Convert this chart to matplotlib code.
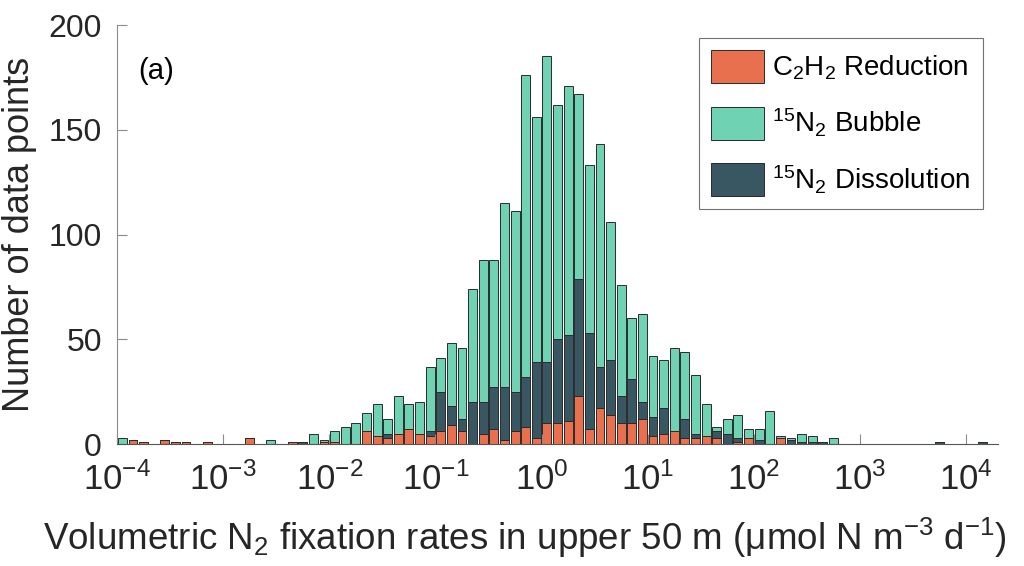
import numpy as np
import matplotlib
matplotlib.use("Agg")
import matplotlib.pyplot as plt
from matplotlib.patches import Patch

plt.rcParams['font.family'] = ['Liberation Sans', 'DejaVu Sans']
plt.rcParams['mathtext.fontset'] = 'custom'
plt.rcParams['mathtext.rm'] = 'Liberation Sans'
plt.rcParams['mathtext.it'] = 'Liberation Sans:italic'
plt.rcParams['mathtext.bf'] = 'Liberation Sans:bold'

# histogram: log10 bins of width 0.1 starting at 1e-4
bin_start = -4.0
bin_step = 0.1

# counts per bin (segment heights, stacked bottom -> top)
c2h2 = [0, 2, 1, 0, 2, 1, 1, 0, 1, 0, 0, 0, 3, 0, 0, 0, 1, 0, 0, 1,
        1, 0, 0, 6, 4, 3, 5, 7, 5, 4, 6, 9, 6, 0, 5, 7, 2, 6, 8, 3,
        10, 10, 11, 23, 7, 17, 14, 10, 10, 12, 4, 5, 6, 3, 3, 4, 3, 0, 1, 3,
        0, 0, 3, 0, 0, 0, 0, 0, 0, 0, 0, 0, 0, 0, 0, 0, 0, 0, 0, 0,
        0, 0, 0]
dissolution = [0, 0, 0, 0, 0, 0, 0, 0, 0, 0, 0, 0, 0, 0, 0, 0, 0, 1, 0, 0,
               0, 0, 0, 0, 0, 2, 0, 0, 0, 2, 19, 9, 6, 20, 15, 20, 25, 19, 24, 36,
               29, 40, 41, 56, 46, 20, 26, 13, 21, 8, 9, 12, 0, 9, 2, 0, 3, 5, 2, 0,
               2, 0, 0, 2, 1, 1, 1, 0, 0, 0, 0, 0, 0, 0, 0, 0, 0, 1, 0, 0,
               0, 1, 0]
bubble = [3, 0, 0, 0, 0, 0, 0, 0, 0, 0, 0, 0, 0, 0, 2, 0, 0, 0, 5, 1,
          5, 8, 10, 9, 15, 7, 18, 12, 15, 31, 16, 30, 34, 54, 68, 61, 88, 86, 144, 117,
          146, 112, 119, 88, 80, 106, 66, 53, 29, 42, 29, 23, 40, 32, 28, 15, 2, 7, 11, 4,
          5, 16, 1, 1, 4, 3, 0, 3, 0, 0, 0, 0, 0, 0, 0, 0, 0, 0, 0, 0,
          0, 0, 0]

labels = ['C$_2$H$_2$ Reduction', '$^{15}$N$_2$ Bubble', '$^{15}$N$_2$ Dissolution']
col_c2h2 = '#E8704F'
col_bubble = '#6FD2B2'
col_diss = '#395663'

n = len(c2h2)
k = np.arange(n)
frac = 0.84
lo = 10 ** (bin_start + bin_step * k + bin_step * (1 - frac) / 2)
hi = 10 ** (bin_start + bin_step * k + bin_step * (1 + frac) / 2)
w = hi - lo

c2h2 = np.array(c2h2)
dissolution = np.array(dissolution)
bubble = np.array(bubble)

fig = plt.figure(figsize=(10.24, 5.66), dpi=100)
ax = fig.add_axes([0.1143, 0.2155, 0.8603, 0.7403])

ec = '#2b2b2b'
ax.bar(lo, c2h2, width=w, align='edge', color=col_c2h2, edgecolor=ec, linewidth=0.7)
ax.bar(lo, dissolution, width=w, align='edge', bottom=c2h2, color=col_diss, edgecolor=ec, linewidth=0.7)
ax.bar(lo, bubble, width=w, align='edge', bottom=c2h2 + dissolution, color=col_bubble, edgecolor=ec, linewidth=0.7)

ax.set_xscale('log')
ax.set_xlim(1e-4, 10 ** 4.3)
ax.set_ylim(0, 200)
ax.set_xticks([10.0 ** e for e in range(-4, 5)])
ax.xaxis.set_minor_locator(matplotlib.ticker.NullLocator())
ax.set_yticks([0, 50, 100, 150, 200])

for s in ['top', 'right']:
    ax.spines[s].set_visible(False)
ax.spines['left'].set_color('#8c8c8c')
ax.spines['bottom'].set_color('#555555')
ax.tick_params(axis='both', direction='in', length=7, colors='#8c8c8c',
               labelcolor='#262626')
ax.tick_params(axis='x', labelsize=25, pad=13)
ax.tick_params(axis='y', labelsize=23, pad=11)

ax.set_ylabel('Number of data points', fontsize=26, color='#262626', labelpad=8)
ax.set_xlabel('Volumetric N$_2$ fixation rates in upper 50 m (\u03bcmol N m$^{-3}$ d$^{-1}$)',
              fontsize=26.5, color='#262626', labelpad=9)
ax.xaxis.set_label_coords(0.463, -0.172)

ax.text(0.024, 0.89, '(a)', transform=ax.transAxes, fontsize=21, va='center', ha='left')

handles = [Patch(facecolor=col_c2h2, edgecolor=ec, linewidth=0.7),
           Patch(facecolor=col_bubble, edgecolor=ec, linewidth=0.7),
           Patch(facecolor=col_diss, edgecolor=ec, linewidth=0.7)]
leg = ax.legend(handles, labels, loc='upper right', bbox_to_anchor=(0.983, 0.97),
                fontsize=20, frameon=True, fancybox=False, handlelength=1.9,
                handleheight=1.45, labelspacing=0.85, handletextpad=0.3,
                borderpad=0.45, borderaxespad=0)
leg.get_frame().set_edgecolor('#4d4d4d')
leg.get_frame().set_linewidth(0.8)

fig.savefig('out.png', dpi=100)
